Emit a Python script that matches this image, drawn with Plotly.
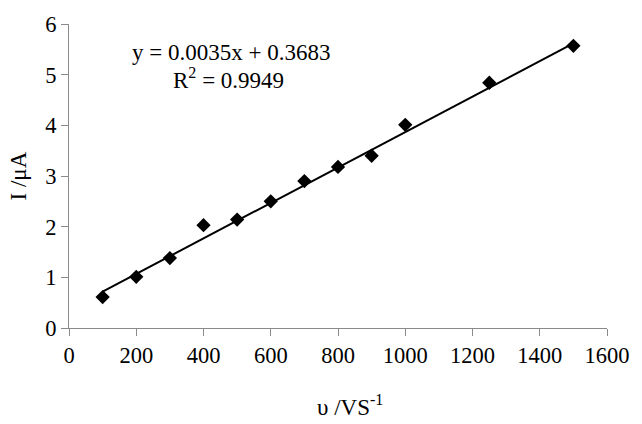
import plotly.graph_objects as go

# Data
scan_rate = [100, 200, 300, 400, 500, 600, 700, 800, 900, 1000, 1250, 1500]
current = [0.61, 1.01, 1.38, 2.03, 2.14, 2.50, 2.90, 3.18, 3.40, 4.01, 4.84, 5.57]

# Linear trendline as reported on the chart
slope = 0.0035
intercept = 0.3683
r_squared = 0.9949

x_title = "υ /VS<sup>-1</sup>"
y_title = "I /μA"

fit_x = [min(scan_rate), max(scan_rate)]
fit_y = [slope * v + intercept for v in fit_x]

FONT = "Liberation Serif, Times New Roman, serif"
AXIS_COLOR = "#8a8a8a"
TICK_SIZE = 22.5
TEXT_SIZE = 23

fig = go.Figure()
fig.add_trace(go.Scatter(
    x=fit_x, y=fit_y, mode="lines",
    line=dict(color="black", width=2),
    hoverinfo="skip", showlegend=False,
))
fig.add_trace(go.Scatter(
    x=scan_rate, y=current, mode="markers",
    marker=dict(symbol="diamond", size=11, color="black"),
    showlegend=False,
))

fig.add_annotation(
    x=481, y=5.43, xref="x", yref="y",
    text=f"y = {slope}x + {intercept}", showarrow=False,
    font=dict(family=FONT, size=TEXT_SIZE, color="black"),
)
fig.add_annotation(
    x=474, y=4.93, xref="x", yref="y",
    text=f"R<sup>2</sup> = {r_squared}", showarrow=False,
    font=dict(family=FONT, size=TEXT_SIZE, color="black"),
)
# axis titles
fig.add_annotation(
    x=835, y=-0.255, xref="x", yref="paper", yanchor="middle",
    text=x_title, showarrow=False,
    font=dict(family=FONT, size=TEXT_SIZE, color="black"),
)
fig.add_annotation(
    x=-0.094, y=0.5, xref="paper", yref="paper",
    xanchor="center", yanchor="middle", textangle=-90,
    text=y_title, showarrow=False,
    font=dict(family=FONT, size=TEXT_SIZE, color="black"),
)

fig.update_layout(
    width=642, height=424,
    margin=dict(l=69, r=29, t=13, b=96),
    paper_bgcolor="white", plot_bgcolor="white",
    font=dict(family=FONT, size=TICK_SIZE, color="black"),
    xaxis=dict(
        range=[0, 1600], dtick=200, tick0=0,
        showgrid=False, zeroline=False,
        showline=True, linecolor=AXIS_COLOR, linewidth=1,
        ticks="outside", ticklen=7, tickcolor=AXIS_COLOR,
        tickfont=dict(family=FONT, size=TICK_SIZE, color="black"),
    ),
    yaxis=dict(
        range=[0, 6], dtick=1, tick0=0,
        showgrid=False, zeroline=False,
        showline=True, linecolor=AXIS_COLOR, linewidth=1,
        ticks="outside", ticklen=7, tickcolor=AXIS_COLOR,
        tickfont=dict(family=FONT, size=TICK_SIZE, color="black"),
    ),
)

fig.write_html(
    "out.html",
    config={"displayModeBar": False},
    post_script="document.body.style.margin='0';document.body.style.overflow='hidden';",
)
